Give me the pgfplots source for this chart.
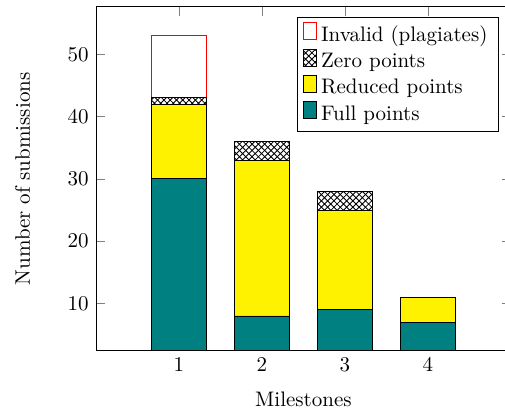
\documentclass[border=0pt]{standalone}
\usepackage{pgfplots}
\pgfplotsset{compat=1.18}
\usetikzlibrary{patterns}

\begin{document}
\begin{tikzpicture}
  \begin{axis}[
      name=ax,
      ybar stacked,
      scale only axis,
      width=197.6pt, height=163.8pt,
      bar width=0.66,
      xmin=0, xmax=5,
      xtick={1,2,3,4},
      xlabel={Milestones},
      ylabel={Number of submissions},
      xlabel style={yshift=-2.5pt},
      ylabel style={yshift=11pt},
      reverse legend,
      legend cell align=left,
      legend pos=north east,
    ]
    % full points
    \addplot[fill=teal, draw=black] coordinates {(1,30) (2,8) (3,9) (4,7)};
    % reduced points
    \addplot[fill=yellow, draw=black] coordinates {(1,12) (2,25) (3,16) (4,4)};
    % zero points
    \addplot[pattern=crosshatch, draw=black] coordinates {(1,1) (2,3) (3,3)};
    % plagiates
    \addplot[fill=white, draw=red] coordinates {(1,10)};
    \legend{Full points, Reduced points, Zero points, Invalid (plagiates)}
  \end{axis}
  \pgfresetboundingbox
  \path ([shift={(-45.7pt,-27.6pt)}]ax.south west) rectangle ([shift={(194.8pt,167.1pt)}]ax.south west);
\end{tikzpicture}
\end{document}
